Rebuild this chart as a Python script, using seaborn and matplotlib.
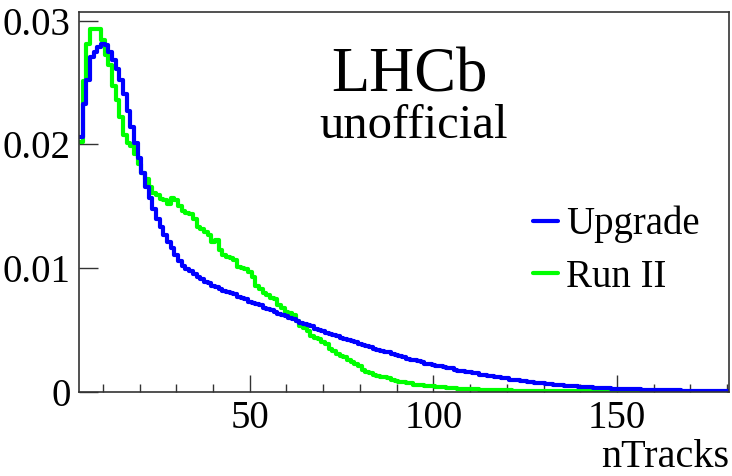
import pandas as pd
import matplotlib
matplotlib.use("Agg")
import matplotlib.pyplot as plt
from matplotlib.ticker import MultipleLocator
import seaborn as sns

# nTracks bins: one per integer, 4 .. 180
ntracks = list(range(4, 181))

upgrade = [
    0.0206, 0.0233, 0.0252, 0.0271, 0.0275, 0.0279, 0.0281, 0.0280, 0.0275, 0.0268,
    0.0261, 0.0252, 0.0241, 0.0227, 0.0214, 0.0201, 0.0189, 0.0177, 0.0166, 0.0157,
    0.0148, 0.0140, 0.0133, 0.0127, 0.0121, 0.0116, 0.0111, 0.0106, 0.0102, 0.0099,
    0.0098, 0.0095, 0.0093, 0.0091, 0.0089, 0.0088, 0.0086, 0.0085, 0.0083, 0.0082,
    0.0081, 0.0080, 0.0079, 0.0077, 0.0076, 0.0075, 0.0073, 0.0072, 0.0071, 0.0070,
    0.0068, 0.0067, 0.0066, 0.0065, 0.0063, 0.0062, 0.0061, 0.0060, 0.0059, 0.0057,
    0.0056, 0.0055, 0.0054, 0.0053, 0.0051, 0.0050, 0.0049, 0.0048, 0.0047, 0.0046,
    0.0045, 0.0044, 0.0043, 0.0042, 0.0041, 0.0040, 0.0039, 0.0038, 0.0037, 0.0036,
    0.0035, 0.0034, 0.0033, 0.0032, 0.0032, 0.0031, 0.0030, 0.0029, 0.0028, 0.0027,
    0.0026, 0.0026, 0.0025, 0.0024, 0.0023, 0.0023, 0.0022, 0.0021, 0.0021, 0.0020,
    0.0019, 0.0019, 0.0018, 0.0017, 0.0017, 0.0016, 0.0016, 0.0015, 0.0015, 0.0014,
    0.0014, 0.0013, 0.0013, 0.0012, 0.0012, 0.0011, 0.0011, 0.0010, 0.0010, 0.00095,
    0.0009, 0.00087, 0.00083, 0.0008, 0.00076, 0.00073, 0.0007, 0.00066, 0.00063, 0.0006,
    0.00057, 0.00054, 0.00052, 0.0005, 0.00047, 0.00045, 0.00043, 0.00041, 0.00039, 0.00037,
    0.00035, 0.00034, 0.00032, 0.00031, 0.0003, 0.00028, 0.00027, 0.00026, 0.00025, 0.00024,
    0.00023, 0.00022, 0.00021, 0.0002, 0.00019, 0.00018, 0.00017, 0.00017, 0.00016, 0.00015,
    0.00015, 0.00014, 0.00013, 0.00013, 0.00012, 0.00012, 0.00011, 0.00011, 0.0001, 0.0001,
    0.00009, 0.00009, 0.00008, 0.00008, 0.00008, 0.00007, 0.00007,
]

run2 = [
    0.0202, 0.0251, 0.0281, 0.0293, 0.0293, 0.0293, 0.0284, 0.0272, 0.0264, 0.0247,
    0.0236, 0.0222, 0.0208, 0.0201, 0.0199, 0.0192, 0.0184, 0.0177, 0.0172, 0.0166,
    0.0161, 0.0159, 0.0156, 0.0155, 0.0152, 0.0157, 0.0155, 0.0150, 0.0146, 0.0145,
    0.0144, 0.0140, 0.0133, 0.0132, 0.0129, 0.0127, 0.0121, 0.0123, 0.0115, 0.0111,
    0.0109, 0.0108, 0.0107, 0.0101, 0.0100, 0.0099, 0.0097, 0.0093, 0.0086, 0.0083,
    0.0080, 0.0078, 0.0076, 0.0075, 0.0070, 0.0068, 0.0065, 0.0064, 0.0062, 0.0057,
    0.0053, 0.0052, 0.0049, 0.0045, 0.0044, 0.0043, 0.0040, 0.0039, 0.0035, 0.0033,
    0.0031, 0.0029, 0.0028, 0.0026, 0.0024, 0.0023, 0.0021, 0.0018, 0.0016, 0.0015,
    0.0014, 0.0013, 0.0012, 0.0012, 0.0011, 0.0010, 0.0009, 0.0008, 0.0008, 0.0007,
    0.0007, 0.0006, 0.0006, 0.0006, 0.0005, 0.0005, 0.00045, 0.00043, 0.0004, 0.00038,
    0.00035, 0.00033, 0.0003, 0.00028, 0.00027, 0.00025, 0.00024, 0.00022, 0.00021, 0.0002,
    0.00019, 0.00018, 0.00017, 0.00016, 0.00015, 0.00014, 0.00013, 0.00013, 0.00012, 0.00011,
    0.00011, 0.0001, 0.0001, 0.00009, 0.00009, 0.00008, 0.00008, 0.00007, 0.00007, 0.00007,
    0.00006, 0.00006, 0.00006, 0.00006, 0.00006, 0.00006, 0.00006, 0.00006, 0.00006, 0.00006,
    0.00005, 0.00005, 0.00005, 0.00005, 0.00005, 0.00005, 0.00005, 0.00005, 0.00005, 0.00005,
    0.00004, 0.00004, 0.00004, 0.00004, 0.00004, 0.00004, 0.00004, 0.00004, 0.00004, 0.00004,
    0.00003, 0.00003, 0.00003, 0.00003, 0.00003, 0.00003, 0.00003, 0.00003, 0.00003, 0.00003,
    0.00003, 0.00003, 0.00003, 0.00003, 0.00003, 0.00003, 0.00003,
]

y_ticks = [0, 0.01, 0.02, 0.03]
y_ticklabels = ["0", "0.01", "0.02", "0.03"]
x_ticks = [50, 100, 150]

df = pd.DataFrame({"ntracks": ntracks, "upgrade": upgrade, "run2": run2})

sns.set_style("ticks")
plt.rcParams['font.family'] = ['Liberation Serif', 'DejaVu Serif']
plt.rcParams['text.color'] = 'black'
plt.rcParams['axes.labelcolor'] = 'black'
plt.rcParams['xtick.labelcolor'] = 'black'
plt.rcParams['ytick.labelcolor'] = 'black'

fig = plt.figure(figsize=(7.32, 4.76), dpi=100)
ax = fig.add_axes([79 / 732, 84 / 476, 650 / 732, 380 / 476])

# one bin per integer nTracks value; green first so blue sits on top
sns.histplot(data=df, x="ntracks", weights="run2", bins=177, binrange=(3.5, 180.5),
             element="step", fill=False, color="#00ff00", linewidth=3,
             label="Run II", ax=ax)
sns.histplot(data=df, x="ntracks", weights="upgrade", bins=177, binrange=(3.5, 180.5),
             element="step", fill=False, color="#0000ff", linewidth=3,
             label="Upgrade", ax=ax)

ax.set_xlim(3.5, 180.5)
ax.set_ylim(0, 0.0307)

ax.set_yticks(y_ticks)
ax.set_yticklabels(y_ticklabels)
ax.set_xticks(x_ticks)
ax.xaxis.set_minor_locator(MultipleLocator(10))
ax.tick_params(axis="both", which="major", direction="in", labelsize=28, color="#333333")
ax.tick_params(axis="y", which="major", length=14, width=1, pad=6)
ax.tick_params(axis="x", which="major", length=12, width=1, pad=6)
ax.tick_params(axis="x", which="minor", direction="in", length=6, width=1, color="#333333")
for side in ax.spines.values():
    side.set_linewidth(1.2)
    side.set_color("#333333")

ax.set_ylabel("")
ax.set_xlabel("nTracks", fontsize=29, loc="right", labelpad=1)

ax.text(0.508, 0.83, "LHCb", transform=ax.transAxes, fontsize=45,
        ha="center", va="center")
ax.text(0.515, 0.70, "unofficial", transform=ax.transAxes, fontsize=35,
        ha="center", va="center")

handles, labels = ax.get_legend_handles_labels()
ax.legend(handles[::-1], labels[::-1], loc="upper left", bbox_to_anchor=(0.698, 0.49),
          frameon=False, fontsize=28, handlelength=0.65, handletextpad=0.2,
          labelspacing=0.4, borderaxespad=0, borderpad=0)

fig.savefig("out.png", dpi=100)
